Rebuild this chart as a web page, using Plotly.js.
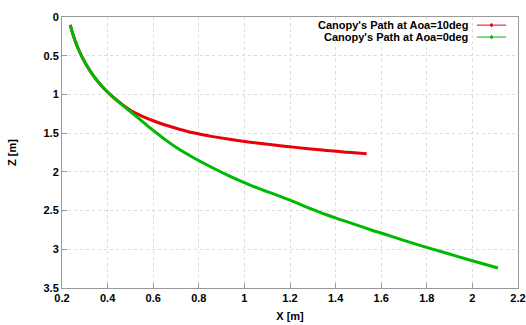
<!DOCTYPE html>
<html>
<head>
<meta charset="utf-8">
<script src="https://cdn.plot.ly/plotly-3.0.1.min.js"></script>
<style>html,body{margin:0;padding:0;background:#fff;}#chart{width:526px;height:325px;}</style>
</head>
<body>
<div id="chart"></div>
<script>
// Canopy's Path at Aoa=10deg
const redX = [0.236, 0.251, 0.273, 0.302, 0.339, 0.375, 0.419, 0.460, 0.498, 0.541, 0.600, 0.660, 0.718, 0.775, 0.862, 0.935, 1.025, 1.112, 1.186, 1.258, 1.330, 1.405, 1.470, 1.536];
const redZ = [0.103, 0.253, 0.423, 0.595, 0.765, 0.894, 1.022, 1.120, 1.200, 1.268, 1.340, 1.402, 1.452, 1.495, 1.545, 1.580, 1.617, 1.648, 1.672, 1.694, 1.715, 1.735, 1.751, 1.766];
// Canopy's Path at Aoa=0deg
const greenX = [0.236, 0.251, 0.273, 0.302, 0.339, 0.375, 0.419, 0.460, 0.512, 0.560, 0.600, 0.650, 0.700, 0.775, 0.862, 0.935, 1.025, 1.186, 1.290, 1.375, 1.405, 1.550, 1.682, 1.784, 1.888, 1.988, 2.112];
const greenZ = [0.103, 0.253, 0.423, 0.595, 0.765, 0.894, 1.022, 1.125, 1.250, 1.368, 1.465, 1.578, 1.683, 1.815, 1.950, 2.055, 2.170, 2.350, 2.475, 2.570, 2.600, 2.745, 2.868, 2.962, 3.052, 3.138, 3.242];
const names = ["Canopy's Path at Aoa=10deg", "Canopy's Path at Aoa=0deg"];
const colors = ['#e8000b', '#00b800'];
const xTicks = [0.2, 0.4, 0.6, 0.8, 1, 1.2, 1.4, 1.6, 1.8, 2, 2.2];
const yTicks = [0, 0.5, 1, 1.5, 2, 2.5, 3, 3.5];

const fam = 'Liberation Sans, Arial, sans-serif';
const traces = [
  {x: redX, y: redZ, name: names[0], mode: 'lines', line: {color: colors[0], width: 3, shape: 'spline', smoothing: 1}, showlegend: false},
  {x: greenX, y: greenZ, name: names[1], mode: 'lines', line: {color: colors[1], width: 3, shape: 'spline', smoothing: 1}, showlegend: false}
];
const axisCommon = {
  showline: true, linecolor: '#999', linewidth: 1, mirror: true,
  showgrid: true, gridcolor: '#dcdcdc', griddash: 'dot', gridwidth: 1,
  ticks: 'inside', ticklen: 5, tickcolor: '#999', zeroline: false,
  tickfont: {family: fam, size: 11, color: '#000', weight: 'bold'}
};
// legend drawn gnuplot-style: right-aligned text with sample line to its right
const legendRowsY = [0.970, 0.926];
const annotations = names.map((n, i) => ({
  xref: 'paper', yref: 'paper', x: 0.895, y: legendRowsY[i], xanchor: 'right', yanchor: 'middle',
  text: n, showarrow: false, font: {family: fam, size: 11, color: '#000', weight: 'bold'}
}));
const shapes = [];
names.forEach((n, i) => {
  shapes.push({type: 'line', xref: 'paper', yref: 'paper', x0: 0.910, x1: 0.974, y0: legendRowsY[i], y1: legendRowsY[i],
    line: {color: colors[i], width: 1}});
  shapes.push({type: 'circle', xref: 'paper', yref: 'paper', x0: 0.940, x1: 0.944, y0: legendRowsY[i] - 0.006, y1: legendRowsY[i] + 0.006,
    line: {color: colors[i], width: 1}, fillcolor: colors[i]});
});
const layout = {
  width: 526, height: 325,
  margin: {l: 62, r: 8, t: 17, b: 37},
  paper_bgcolor: '#fff', plot_bgcolor: '#fff',
  font: {family: fam, size: 11, color: '#000'},
  showlegend: false,
  annotations: annotations,
  shapes: shapes,
  xaxis: Object.assign({}, axisCommon, {
    range: [0.2, 2.2], tickvals: xTicks, ticktext: xTicks.map(String),
    title: {text: 'X [m]', font: {family: fam, size: 11, weight: 'bold'}, standoff: 9}
  }),
  yaxis: Object.assign({}, axisCommon, {
    range: [3.5, 0], tickvals: yTicks, ticktext: yTicks.map(String),
    title: {text: 'Z [m]', font: {family: fam, size: 11, weight: 'bold'}, standoff: 24}
  })
};
Plotly.newPlot('chart', traces, layout, {displayModeBar: false, staticPlot: true});
</script>
</body>
</html>
